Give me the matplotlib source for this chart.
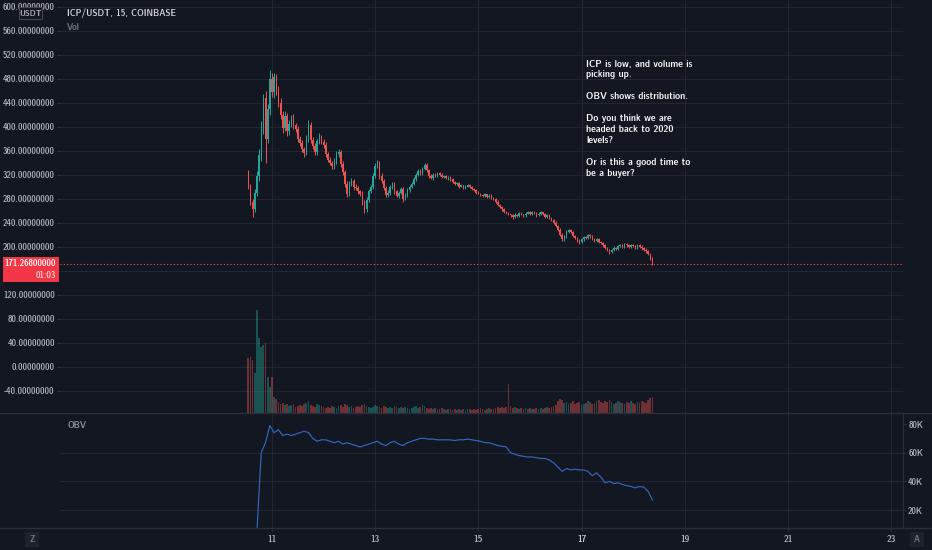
import numpy as np
import matplotlib.pyplot as plt
from matplotlib import font_manager
from matplotlib.font_manager import FontProperties
from matplotlib.patches import Rectangle
from matplotlib.lines import Line2D

# hourly candles (close, wick sizes, volume), first candle at day 10.54
start_day = 10.54
first_open = 325
close = [300, 275, 262, 290, 318, 352, 400, 448, 380, 430, 480, 458, 482, 460, 440, 420, 398, 418, 392, 405, 415, 402, 396, 380,
         372, 362, 356, 380, 402, 378, 368, 357, 376, 383, 375, 370, 355, 345, 340, 334, 342, 355, 358, 338, 325, 305, 288, 305,
         310, 300, 298, 292, 288, 275, 262, 278, 292, 300, 318, 335, 340, 318, 310, 298, 286, 290, 300, 304, 292, 285, 290, 296,
         280, 286, 294, 300, 305, 312, 320, 326, 322, 330, 336, 328, 318, 314, 320, 318, 322, 320, 316, 318, 314, 316, 312, 308,
         305, 306, 300, 302, 298, 300, 303, 299, 296, 294, 290, 288, 286, 284, 287, 283, 285, 281, 279, 275, 270, 266, 262, 258,
         256, 254, 252, 249, 253, 251, 256, 254, 252, 255, 257, 255, 258, 256, 252, 255, 257, 254, 250, 253, 248, 244, 240, 234,
         228, 220, 212, 216, 224, 228, 224, 218, 214, 210, 208, 212, 216, 214, 219, 217, 213, 210, 212, 208, 206, 202, 198, 194,
         191, 194, 198, 196, 201, 203, 200, 204, 202, 199, 203, 201, 198, 202, 200, 197, 195, 192, 188, 180, 171.268]
wick_up = [3, 4, 5, 6, 8, 10, 10, 6, 12, 8, 14, 10, 8, 6, 8, 7, 6, 8, 5, 6, 5, 6, 4, 5,
           4, 5, 4, 6, 9, 5, 4, 5, 4, 6, 3, 4, 4, 3, 4, 3, 5, 5, 4, 3, 4, 3, 4, 4,
           4, 3, 4, 3, 3, 4, 3, 5, 4, 3, 4, 4, 4, 3, 4, 3, 3, 4, 3, 4, 3, 3, 3, 4,
           3, 3, 3, 3, 3, 4, 3, 4, 3, 3, 4, 3, 2, 3, 2, 3, 2, 2, 3, 2, 2, 2, 2, 2,
           2, 1, 2, 2, 1, 2, 2, 1, 2, 1, 2, 2, 1, 2, 2, 1, 2, 2, 1, 2, 2, 1, 2, 2,
           2, 2, 1, 2, 3, 2, 2, 2, 1, 2, 2, 2, 2, 1, 2, 2, 2, 1, 2, 2, 1, 2, 2, 2,
           2, 3, 2, 3, 3, 2, 2, 2, 2, 2, 2, 3, 2, 2, 2, 2, 2, 2, 2, 2, 2, 2, 2, 2,
           2, 2, 3, 2, 2, 2, 2, 2, 2, 2, 2, 2, 2, 2, 2, 2, 2, 2, 2, 2, 2]
wick_dn = [4, 6, 13, 5, 6, 8, 10, 12, 41, 8, 10, 9, 10, 8, 8, 7, 8, 6, 7, 6, 5, 6, 5, 6,
           5, 5, 6, 4, 5, 6, 5, 5, 4, 5, 4, 5, 5, 4, 4, 5, 4, 4, 5, 6, 5, 5, 5, 4,
           4, 5, 4, 4, 4, 5, 6, 4, 4, 3, 4, 4, 4, 5, 4, 4, 4, 3, 4, 4, 5, 3, 4, 3,
           6, 3, 3, 3, 3, 3, 3, 3, 3, 3, 3, 3, 3, 2, 3, 2, 2, 3, 2, 2, 2, 3, 2, 2,
           2, 2, 2, 1, 2, 2, 1, 2, 2, 2, 2, 1, 2, 2, 2, 2, 2, 1, 2, 2, 2, 2, 2, 2,
           2, 2, 2, 3, 2, 2, 1, 2, 2, 2, 1, 2, 2, 2, 2, 1, 2, 2, 2, 2, 2, 2, 2, 2,
           2, 3, 3, 2, 2, 2, 2, 2, 2, 2, 3, 2, 2, 2, 2, 2, 2, 2, 2, 2, 2, 2, 2, 2,
           3, 2, 2, 2, 2, 2, 2, 2, 2, 2, 2, 2, 2, 2, 2, 2, 2, 2, 2, 3, 2]
volume = [55, 56, 53, 40, 103, 75, 66, 68, 70, 36, 26, 36, 16, 14, 11, 9, 10, 8, 9, 7, 8, 9, 6, 7,
          8, 7, 9, 10, 12, 8, 7, 6, 9, 8, 7, 6, 5, 6, 5, 7, 6, 5, 7, 8, 6, 9, 8, 6,
          7, 5, 6, 7, 6, 8, 9, 7, 6, 5, 6, 8, 7, 6, 5, 7, 6, 5, 6, 5, 7, 6, 5, 6,
          5, 6, 5, 4, 5, 6, 7, 5, 6, 8, 7, 5, 4, 5, 4, 5, 4, 4, 5, 4, 3, 4, 4, 3,
          4, 3, 4, 3, 4, 3, 4, 4, 3, 4, 3, 4, 5, 4, 3, 4, 5, 4, 4, 5, 6, 5, 6, 5,
          6, 29, 7, 5, 6, 5, 4, 5, 4, 5, 4, 5, 4, 4, 5, 4, 5, 4, 5, 6, 5, 6, 7, 8,
          12, 14, 13, 10, 11, 9, 10, 12, 9, 10, 11, 8, 9, 10, 12, 11, 9, 10, 12, 13, 11, 10, 12, 11,
          13, 11, 9, 10, 12, 11, 10, 9, 11, 10, 12, 10, 9, 11, 10, 12, 11, 10, 13, 15, 16]

# OBV every 2 hours, in thousands
obv_start = 10.54
obv = [-20, -5, 5, 60, 67, 79, 74, 76, 72, 73, 72, 73, 74, 75, 74, 70, 68, 69, 69, 68,
       67, 68, 66, 67, 66, 65, 64, 65, 66, 67, 68, 66, 65, 67, 68, 66, 65, 67, 68, 69,
       70, 70, 69.5, 69.5, 69, 69, 69, 69, 68.5, 69, 69, 69.5, 69, 68.5, 68, 67, 67, 66, 65, 64.5,
       64, 60, 59, 58, 57.5, 57, 57, 56.5, 56, 56, 55, 53, 50, 47, 49, 48, 48.5, 48, 48, 47,
       44, 46, 43, 39, 40, 38.5, 39, 38, 37, 36.5, 35.5, 36.5, 36, 33, 27]

price_ticks = list(range(-40, 601, 40))
hidden_tick = 160  # sits under the last-price badge
day_ticks = [11, 13, 15, 17, 19, 21, 23]
obv_ticks = [20, 40, 60, 80]
last_price = 171.268
note_lines = ["ICP is low, and volume is", "picking up.", "", "OBV shows distribution.", "",
              "Do you think we are", "headed back to 2020", "levels?", "",
              "Or is this a good time to", "be a buyer?"]

bg = '#131722'
grid = '#222632'
sep = '#2a2e39'
txt = '#b2b5be'
up_c = '#26a69a'
dn_c = '#ef5350'

# look for a condensed sans face, the chart uses a narrow font
cond_path = None
for f in font_manager.fontManager.ttflist:
    low = (f.name + ' ' + f.fname).lower()
    if 'mono' in low or 'serif' in low or 'bold' in low or 'oblique' in low or 'italic' in low:
        continue
    if f.style != 'normal':
        continue
    if 'narrow' in low or 'condensed' in low or str(f.stretch) in ('condensed', 'semi-condensed'):
        cond_path = f.fname
        if 'liberation' in low:
            break


def fp(size):
    if cond_path:
        return FontProperties(fname=cond_path, size=size)
    return FontProperties(family='Liberation Sans', size=size * 0.84)


plt.rcParams['font.family'] = ['Liberation Sans', 'DejaVu Sans']

W, H = 932, 550
fig = plt.figure(figsize=(W / 100, H / 100), dpi=100, facecolor=bg)
ax = fig.add_axes([60 / W, 137 / H, 843 / W, 413 / H], facecolor=bg)
axo = fig.add_axes([60 / W, 22 / H, 843 / W, 115 / H], facecolor=bg)

n = min(len(close), len(wick_up), len(wick_dn), len(volume))
c = np.array(close[:n], dtype=float)
o = np.concatenate([[first_open], c[:-1]])
t = start_day + np.arange(n) / 24
hi = np.maximum(o, c) + np.array(wick_up[:n])
lo = np.minimum(o, c) - np.array(wick_dn[:n])
cols = np.where(c >= o, up_c, dn_c)

# volume overlay in the price pane
axv = ax.twinx()
axv.bar(t, volume[:n], width=0.8 / 24, color=cols, alpha=0.42, linewidth=0)
axv.set_ylim(0, max(volume) * 4.0)
axv.axis('off')

ax.vlines(t, lo, hi, colors=cols, linewidth=0.7, zorder=3)
body = np.maximum(np.abs(c - o), 0.6)
ax.bar(t, body, bottom=np.minimum(o, c), width=0.65 / 24, color=cols, linewidth=0, zorder=4)
ax.axhline(last_price, color=dn_c, linestyle=(0, (1, 2)), linewidth=0.8, zorder=2)

ax.set_xlim(6.89, 23.23)
ax.set_ylim(-77.3, 611)
ax.set_yticks(price_ticks)
ax.set_yticklabels(['' if v == hidden_tick else '%.8f' % v for v in price_ticks])
for lab in ax.get_yticklabels():
    lab.set_fontproperties(fp(6.8))
ax.set_xticks(day_ticks)
ax.tick_params(axis='y', colors=sep, labelcolor=txt, length=2.2, pad=1.5)
ax.tick_params(axis='x', length=0, labelbottom=False)
ax.grid(True, color=grid, linewidth=0.8)
ax.set_axisbelow(True)
for s in ax.spines.values():
    s.set_visible(False)

# OBV pane
to = obv_start + np.arange(len(obv)) / 12
axo.plot(to, obv, color='#3566bd', linewidth=0.85)
axo.set_xlim(6.89, 23.23)
axo.set_ylim(7.5, 87.7)
for v in [20, 40, 60]:
    axo.axhline(v, color=grid, linewidth=0.8, zorder=0)
for d in day_ticks:
    axo.axvline(d, color=grid, linewidth=0.8, zorder=0)
axo.yaxis.tick_right()
axo.set_yticks(obv_ticks)
axo.set_yticklabels(['%dK' % v for v in obv_ticks])
for lab in axo.get_yticklabels():
    lab.set_fontproperties(fp(6.8))
axo.tick_params(axis='y', colors=sep, labelcolor=txt, length=2.2, pad=1.5)
axo.set_xticks(day_ticks)
axo.set_xticklabels([str(d) for d in day_ticks])
axo.tick_params(axis='x', colors=sep, labelcolor=txt, length=2, pad=3)
for lab in axo.get_xticklabels():
    lab.set_fontproperties(fp(7.2))
    if lab.get_text() == '17':
        lab.set_fontweight('bold')
        lab.set_color('#d1d4dc')
for k, s in axo.spines.items():
    s.set_visible(k == 'right')
    s.set_color(sep)

# pane separators
for yy in [413, 528]:
    fig.add_artist(Line2D([0, 1], [1 - yy / H] * 2, color=sep, linewidth=1, transform=fig.transFigure))

# labels in the panes
fig.text(67 / W, 1 - 13 / H, 'ICP/USDT, 15, COINBASE', color='#d1d4dc', fontproperties=fp(7.0), va='center')
fig.text(67 / W, 1 - 27 / H, 'Vol', color='#787b86', fontproperties=fp(7.0), va='center')
fig.text(67 / W, 1 - 426 / H, 'OBV', color='#9598a1', fontproperties=fp(7.0), va='center')

# USDT badge
fig.add_artist(Rectangle((19 / W, 1 - 19 / H), 23 / W, 12 / H, transform=fig.transFigure,
                         facecolor=bg, edgecolor='#434651', linewidth=0.8))
fig.text(30.5 / W, 1 - 13 / H, 'USDT', color=txt, fontproperties=fp(6.4), ha='center', va='center')

# last price box
fig.add_artist(Rectangle((3 / W, 1 - 282 / H), 56 / W, 25 / H, transform=fig.transFigure,
                         facecolor='#f23645', edgecolor='none'))
fig.text(56 / W, 1 - 264 / H, '%.8f' % last_price, color='white', fontproperties=fp(6.8), ha='right', va='center')
fig.text(56 / W, 1 - 276 / H, '01:03', color='#ffd6d9', fontproperties=fp(6.8), ha='right', va='center')

# corner buttons
for x0, lab in [(25, 'Z'), (910, 'A')]:
    fig.add_artist(Rectangle((x0 / W, 1 - 547 / H), 14 / W, 15 / H, transform=fig.transFigure,
                             facecolor='#1e222d', edgecolor='none'))
    fig.text((x0 + 7) / W, 1 - 539.5 / H, lab, color='#787b86', fontproperties=fp(6.8), ha='center', va='center')

# the note
for k, line in enumerate(note_lines):
    if line:
        fig.text(586 / W, 1 - (64 + k * 10.9) / H, line, color='white', fontproperties=fp(7.6), va='center')

fig.savefig('out.png', dpi=100, facecolor=bg)
